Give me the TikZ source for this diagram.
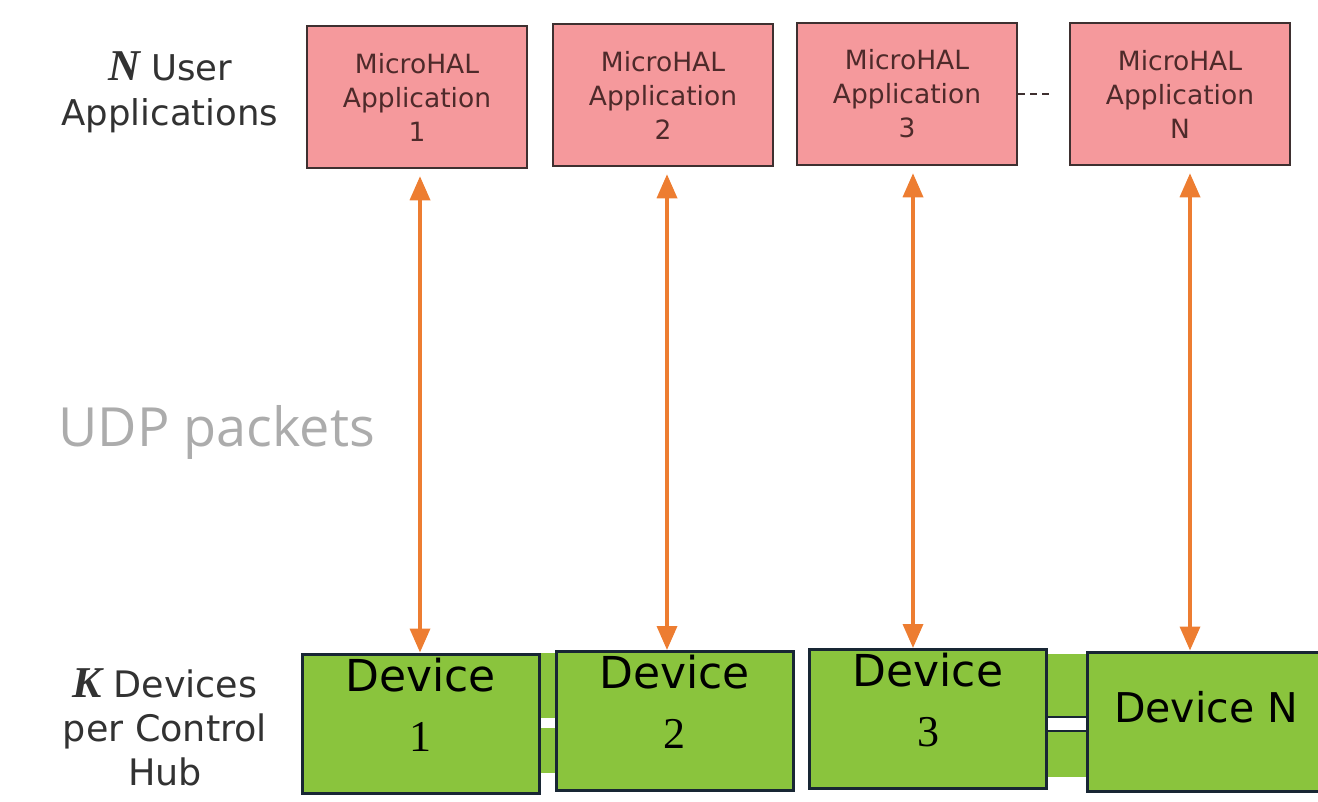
\documentclass[tikz,border=0pt]{standalone}
\usepackage{fontspec}
\setmainfont{DejaVu Sans}
\newfontfamily\numfont{Liberation Serif}
\newfontfamily\udpfont{Open Sans}
\usetikzlibrary{arrows.meta, calc}
\definecolor{appfill}{RGB}{245,153,156}
\definecolor{appborder}{RGB}{62,48,48}
\definecolor{apptext}{RGB}{78,42,42}
\definecolor{devfill}{RGB}{138,196,61}
\definecolor{devborder}{RGB}{24,38,52}
\definecolor{linkorange}{RGB}{237,125,49}
\definecolor{sidetext}{RGB}{50,50,50}
\definecolor{udpgray}{RGB}{172,172,172}
\newcommand{\bigvar}[1]{{\numfont\bfseries\itshape\fontsize{44}{45}\selectfont #1}}

\begin{document}
\begin{tikzpicture}[x=1pt, y=-1pt,
    appbox/.style={draw=appborder, fill=appfill, line width=2.5pt, minimum width=220pt, minimum height=142pt,
        align=center, text=apptext, font=\fontsize{26.5}{34}\selectfont},
    devbox/.style={draw=devborder, fill=devfill, line width=3pt, minimum width=237pt, minimum height=139pt},
    devlabel/.style={anchor=north, yshift=-2pt, align=center, text=black, font=\fontsize{44}{60}\selectfont},
    sidelabel/.style={align=center, text=sidetext},
    udplink/.style={draw=linkorange, line width=3.5pt, {Triangle[width=20pt,length=24pt]}-{Triangle[width=20pt,length=24pt]}}
  ]
    \useasboundingbox (0,0) rectangle (1318,801);

    % side labels
    \node[sidelabel, font=\fontsize{35.5}{45}\selectfont] (userlbl) at (170,92) {\bigvar{N} User\\Applications};
    \node[sidelabel, font=\fontsize{36.5}{44}\selectfont] (devlbl) at (165,727) {\bigvar{K} Devices\\per Control\\Hub};
    \node[anchor=west, text=udpgray, font=\udpfont\fontsize{54}{60}\selectfont] (udp) at (55,432) {UDP packets};

    % user applications
    \foreach \i/\x/\y in {1/417/97, 2/663/95, 3/907/94, N/1180/94}
        \node[appbox] (app\i) at (\x,\y) {MicroHAL\\Application\\\i};
    \draw[appborder, line width=2.5pt, dash pattern=on 7pt off 5pt] (app3.east) -- ([xshift=-16pt]appN.west);

    % hub bands behind the devices
    \fill[devfill] (535,653) rectangle (560,773);
    \fill[devfill] (1045,654) rectangle (1090,777);
    \fill[white] (535,718) rectangle (560,728);
    \filldraw[fill=white, draw=devborder, line width=1.5pt] (1045,717) rectangle (1090,731);

    % devices
    \foreach \i/\x/\y in {1/420.5/723.5, 2/674.5/721, 3/928/719}
        \node[devbox, label={[devlabel]north:{Device\\{\numfont\i}}}] (dev\i) at (\x,\y) {};
    \node[devbox, label={[devlabel, anchor=center, yshift=16pt, font=\fontsize{41}{48}\selectfont]center:Device N}] (devN) at (1206,721.5) {};

    % udp links
    \foreach \i/\dx in {1/3, 2/4, 3/6, N/10} {
        \coordinate (top\i) at ($(app\i.south)+(\dx,0)$);
        \draw[udplink, shorten <=7pt] (top\i) -- (top\i |- dev\i.north);
    }
\end{tikzpicture}
\end{document}
